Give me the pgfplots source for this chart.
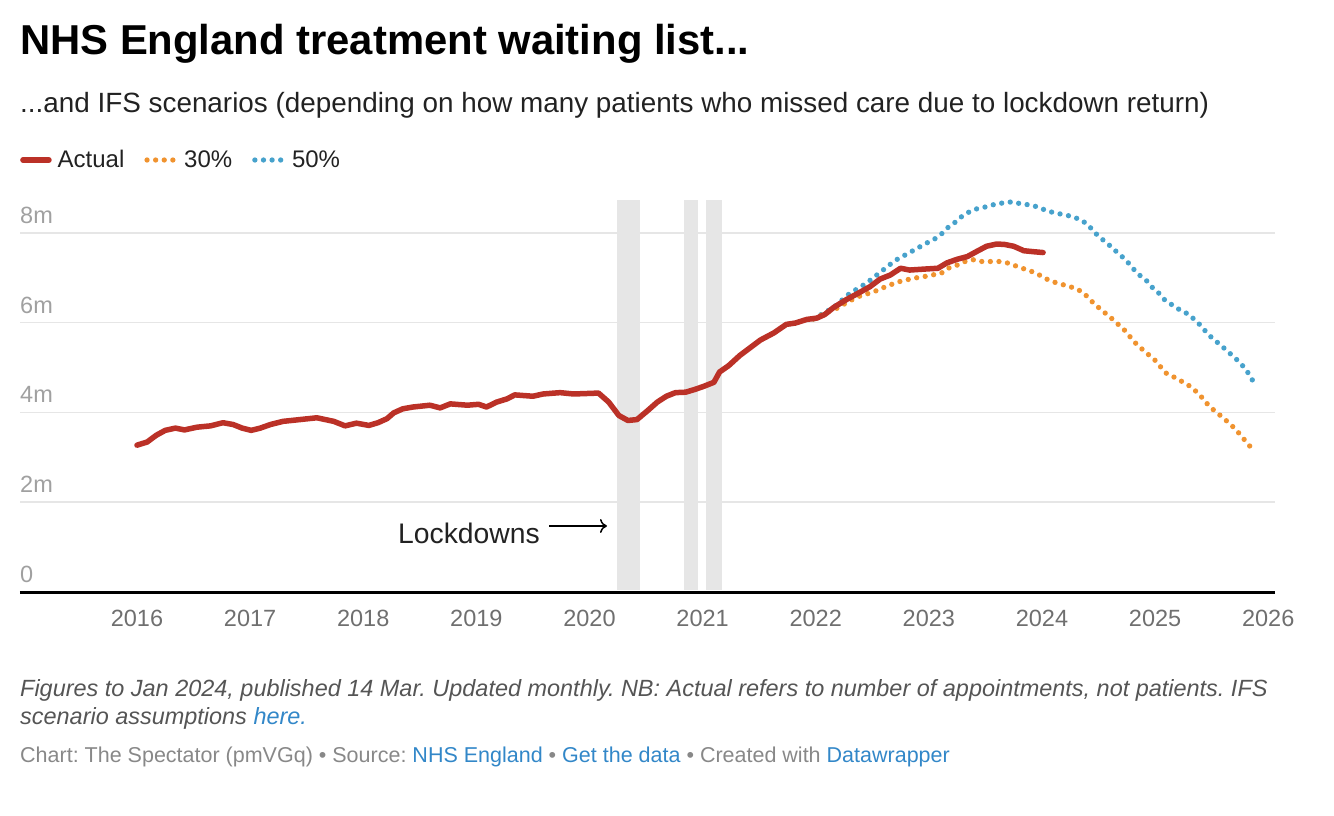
\documentclass[border=0pt]{standalone}
\usepackage{fontspec}
\setmainfont{Liberation Sans}
\usepackage{pgfplots}
\pgfplotsset{compat=1.18}
\usetikzlibrary{arrows.meta}
\frenchspacing
\definecolor{actred}{HTML}{BB3127}
\definecolor{orng}{HTML}{F0932F}
\definecolor{blu}{HTML}{47A2CC}
\definecolor{gridc}{HTML}{E6E6E6}
\definecolor{bandc}{HTML}{E6E6E6}
\definecolor{linkc}{HTML}{3287C8}
\definecolor{tickx}{HTML}{6F6F6F}
\definecolor{ticky}{HTML}{A0A0A0}
\definecolor{footc}{HTML}{555555}
\definecolor{credc}{HTML}{888888}
\definecolor{txt}{HTML}{222222}

\pgfplotstableread{
x y
2016.00 3.27
2016.09 3.34
2016.17 3.49
2016.25 3.60
2016.34 3.65
2016.42 3.61
2016.53 3.67
2016.65 3.70
2016.76 3.77
2016.85 3.73
2016.93 3.65
2017.01 3.60
2017.09 3.65
2017.18 3.73
2017.29 3.80
2017.44 3.84
2017.59 3.88
2017.74 3.80
2017.84 3.70
2017.94 3.76
2018.05 3.71
2018.13 3.77
2018.21 3.86
2018.27 3.99
2018.35 4.08
2018.44 4.12
2018.59 4.16
2018.68 4.10
2018.77 4.19
2018.92 4.16
2019.02 4.18
2019.09 4.12
2019.18 4.23
2019.27 4.30
2019.34 4.39
2019.50 4.36
2019.59 4.41
2019.74 4.44
2019.86 4.41
2020.08 4.43
2020.17 4.23
2020.26 3.93
2020.34 3.82
2020.42 3.84
2020.51 4.03
2020.60 4.23
2020.68 4.36
2020.76 4.44
2020.85 4.45
2020.93 4.51
2021.01 4.58
2021.10 4.67
2021.15 4.90
2021.23 5.04
2021.33 5.27
2021.42 5.44
2021.51 5.61
2021.63 5.77
2021.74 5.96
2021.82 5.99
2021.92 6.07
2022.01 6.10
2022.08 6.18
2022.16 6.34
2022.27 6.51
2022.38 6.66
2022.48 6.80
2022.57 6.97
2022.66 7.06
2022.75 7.21
2022.83 7.17
2022.95 7.19
2023.08 7.21
2023.16 7.33
2023.25 7.41
2023.34 7.47
2023.42 7.58
2023.51 7.70
2023.60 7.75
2023.67 7.74
2023.75 7.70
2023.84 7.60
2023.92 7.58
2024.01 7.56
}\actual

\pgfplotstableread{
x y
2021.98 6.08
2022.16 6.34
2022.30 6.65
2022.38 6.77
2022.45 6.88
2022.57 7.12
2022.63 7.24
2022.70 7.38
2022.83 7.56
2022.98 7.77
2023.05 7.86
2023.11 7.97
2023.17 8.12
2023.23 8.23
2023.29 8.36
2023.36 8.47
2023.43 8.54
2023.51 8.58
2023.59 8.64
2023.67 8.67
2023.74 8.69
2023.82 8.64
2023.90 8.62
2023.98 8.56
2024.04 8.49
2024.12 8.44
2024.20 8.40
2024.27 8.36
2024.35 8.28
2024.41 8.17
2024.46 8.02
2024.52 7.88
2024.58 7.76
2024.64 7.62
2024.70 7.49
2024.76 7.34
2024.81 7.19
2024.87 7.04
2024.93 6.92
2024.98 6.77
2025.04 6.64
2025.09 6.49
2025.16 6.38
2025.22 6.28
2025.30 6.18
2025.35 6.06
2025.41 5.92
2025.46 5.76
2025.52 5.62
2025.58 5.50
2025.64 5.36
2025.70 5.23
2025.76 5.08
2025.81 4.93
2025.86 4.72
}\fifty

\pgfplotstableread{
x y
2021.98 6.08
2022.16 6.30
2022.19 6.32
2022.27 6.44
2022.35 6.55
2022.42 6.62
2022.50 6.67
2022.57 6.75
2022.64 6.82
2022.72 6.90
2022.80 6.95
2022.87 6.99
2022.95 7.02
2023.03 7.06
2023.11 7.10
2023.17 7.21
2023.25 7.28
2023.32 7.36
2023.39 7.40
2023.47 7.36
2023.55 7.36
2023.63 7.36
2023.71 7.32
2023.78 7.25
2023.86 7.18
2023.93 7.12
2024.00 7.03
2024.07 6.93
2024.15 6.87
2024.22 6.82
2024.30 6.76
2024.37 6.66
2024.42 6.52
2024.48 6.38
2024.54 6.25
2024.60 6.13
2024.66 5.99
2024.72 5.86
2024.77 5.71
2024.82 5.56
2024.88 5.42
2024.94 5.29
2025.00 5.16
2025.05 5.01
2025.10 4.87
2025.18 4.77
2025.25 4.67
2025.31 4.58
2025.37 4.45
2025.43 4.29
2025.48 4.13
2025.54 4.01
2025.60 3.88
2025.66 3.75
2025.72 3.60
2025.77 3.45
2025.82 3.30
2025.88 3.12
}\thirty

\begin{document}
\begin{tikzpicture}
\path[use as bounding box] (0pt,0pt) rectangle (1334pt,-816pt);
\node[anchor=base west, inner sep=0pt, font=\fontsize{41.8}{48}\selectfont\bfseries] at (20pt,-55pt) {NHS England treatment waiting list...};
\node[anchor=base west, inner sep=0pt, font=\fontsize{27.85}{32}\selectfont, text=txt] at (20pt,-113pt) {...and IFS scenarios (depending on how many patients who missed care due to lockdown return)};
\begin{axis}[
  at={(20pt,-592pt)}, anchor=south west, scale only axis,
  width=1255pt, height=392pt,
  xmin=2014.966, xmax=2026.06, ymin=0, ymax=8.73,
  axis lines=left,
  x axis line style={black, line width=3pt, -},
  y axis line style={draw=none},
  tick style={draw=none}, major tick length=0pt,
  xtick={2016,2017,2018,2019,2020,2021,2022,2023,2024,2025,2026},
  xticklabels={2016,2017,2018,2019,2020,2021,2022,2023,2024,2025,2026},
  xticklabel style={font=\fontsize{23.5}{28}\selectfont, text=tickx, anchor=north, inner sep=0pt, yshift=-18pt},
  ytick={0,2,4,6,8},
  yticklabels={0,2m,4m,6m,8m},
  yticklabel style={font=\fontsize{23.5}{28}\selectfont, text=ticky, anchor=base west, inner sep=0pt, yshift=9.5pt},
  ymajorgrids, grid style={gridc, line width=1.6pt},
  clip=false,
  reverse legend,
  legend columns=-1,
  legend style={at={(0,1)}, anchor=west, yshift=40pt, draw=none, fill=none, inner sep=0pt,
    font=\fontsize{24}{28}\selectfont, text=txt,
    /tikz/every odd column/.style={column sep=6pt},
    /tikz/every even column/.style={column sep=20pt},
    nodes={inner sep=0pt, anchor=west}},
]
\addplot[fill=bandc, draw=none, forget plot] coordinates {(2020.24,0.034)(2020.24,8.73)(2020.45,8.73)(2020.45,0.034)} -- cycle;
\addplot[fill=bandc, draw=none, forget plot] coordinates {(2020.84,0.034)(2020.84,8.73)(2020.96,8.73)(2020.96,0.034)} -- cycle;
\addplot[fill=bandc, draw=none, forget plot] coordinates {(2021.03,0.034)(2021.03,8.73)(2021.17,8.73)(2021.17,0.034)} -- cycle;

\addplot[blu, line width=5.3pt, line cap=round, dash pattern=on 0pt off 8.6pt,
  legend image code/.code={\draw[blu, line width=5.3pt, line cap=round, dash pattern=on 0pt off 8.6pt] (2.5pt,0pt) -- (31pt,0pt);}]
  table[x=x,y=y] {\fifty};
\addlegendentry{50\%}
\addplot[orng, line width=5.3pt, line cap=round, dash pattern=on 0pt off 8.6pt,
  legend image code/.code={\draw[orng, line width=5.3pt, line cap=round, dash pattern=on 0pt off 8.6pt] (2.5pt,0pt) -- (31pt,0pt);}]
  table[x=x,y=y] {\thirty};
\addlegendentry{30\%}
\addplot[actred, line width=5.5pt, line cap=round, line join=round,
  legend image code/.code={\draw[actred, line width=5.5pt, line cap=round] (2.5pt,0pt) -- (28.5pt,0pt);}]
  table[x=x,y=y] {\actual};
\addlegendentry{Actual}
\end{axis}
\node[anchor=base west, inner sep=0pt, font=\fontsize{28.3}{32}\selectfont, text=txt] at (398pt,-543pt) {Lockdowns};
\draw[black, line width=1.5pt, -{To[length=7pt,width=14pt]}] (549pt,-526pt) -- (607pt,-526pt);
\node[anchor=base west, inner sep=0pt, font=\fontsize{23.45}{28}\selectfont\itshape, text=footc] at (20pt,-696pt) {Figures to Jan 2024, published 14 Mar. Updated monthly. NB: Actual refers to number of appointments, not patients. IFS};
\node[anchor=base west, inner sep=0pt, font=\fontsize{23.45}{28}\selectfont\itshape, text=footc] at (20pt,-724pt) {scenario assumptions \textcolor{linkc}{here.}};
\node[anchor=base west, inner sep=0pt, font=\fontsize{21.5}{26}\selectfont, text=credc] at (20pt,-762pt) {Chart: The Spectator (pmVGq) • Source: \textcolor{linkc}{NHS England} • \textcolor{linkc}{Get the data} • Created with \textcolor{linkc}{Datawrapper}};
\end{tikzpicture}
\end{document}
